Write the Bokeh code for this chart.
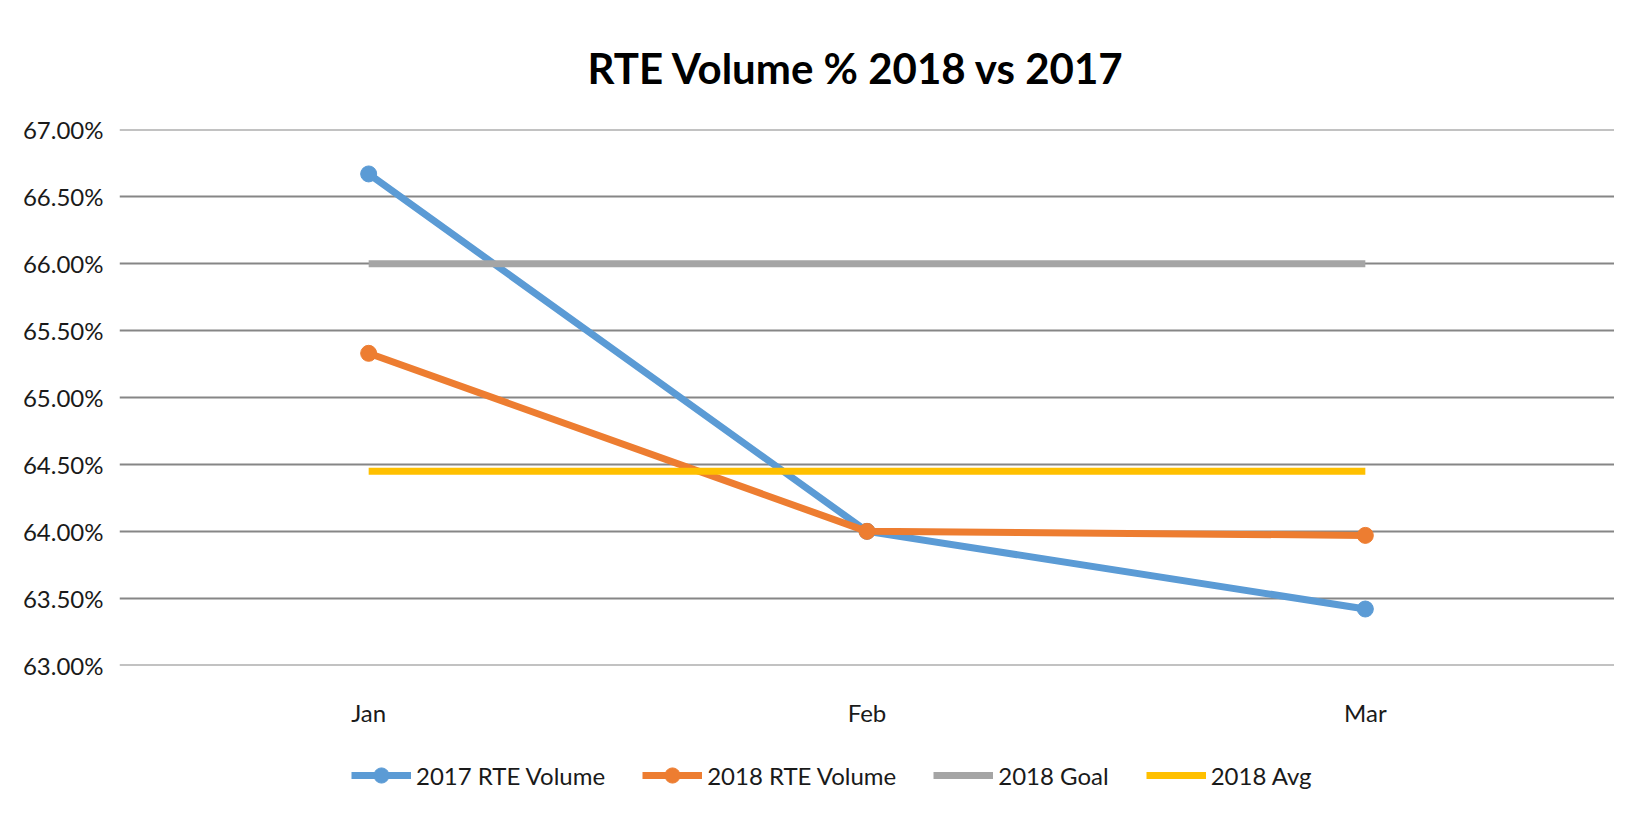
from bokeh.plotting import figure
from bokeh.layouts import column
from bokeh.models import (FactorRange, Range1d, Legend, LegendItem, NumeralTickFormatter,
                          FixedTicker, ColumnDataSource)
from bokeh.embed import file_html
from bokeh.resources import INLINE

months = ["Jan", "Feb", "Mar"]
rte_2017 = [0.6667, 0.6400, 0.6342]
rte_2018 = [0.6533, 0.6400, 0.6397]
goal_2018 = [0.6600, 0.6600, 0.6600]
avg_2018 = [0.6445, 0.6445, 0.6445]
y_ticks = [0.630, 0.635, 0.640, 0.645, 0.650, 0.655, 0.660, 0.665, 0.670]
series_names = ["2017 RTE Volume", "2018 RTE Volume", "2018 Goal", "2018 Avg"]

src = ColumnDataSource(dict(month=months, r17=rte_2017, r18=rte_2018, goal=goal_2018, avg=avg_2018))

FONT = "Lato"
blue, orange, gray, yellow = "#5B9BD5", "#ED7D31", "#A5A5A5", "#FFC000"

p = figure(width=1614, height=740, x_range=FactorRange(*months),
           y_range=Range1d(0.62998, 0.67002),
           output_backend="svg", toolbar_location=None,
           min_border_left=119, min_border_right=0, min_border_top=129, min_border_bottom=75)
p.background_fill_color = "white"
p.border_fill_color = "white"
p.outline_line_color = None

p.title.text = "RTE Volume % 2018 vs 2017"
p.title.align = "left"
p.title.text_font = FONT
p.title.text_font_style = "bold"
p.title.text_font_size = "42px"
p.title.text_color = "#000000"
p.title.standoff = 74
p.title.offset = 468

p.xgrid.grid_line_color = None
p.ygrid.grid_line_color = "#868686"
p.ygrid.grid_line_width = 2
p.yaxis.ticker = FixedTicker(ticks=y_ticks)
p.yaxis.formatter = NumeralTickFormatter(format="0.00%")
for ax in (p.xaxis[0], p.yaxis[0]):
    ax.axis_line_color = None
    ax.major_tick_line_color = None
    ax.minor_tick_line_color = None
    ax.major_label_text_font = FONT
    ax.major_label_text_font_size = "24px"
    ax.major_label_text_color = "#1a1a1a"
p.yaxis.major_label_standoff = 10
p.xaxis.major_label_standoff = 26


def draw(fig, visible=True):
    r = []
    r.append([fig.line("month", "r17", source=src, line_width=7, color=blue, visible=visible),
              fig.scatter("month", "r17", source=src, size=16, color=blue, visible=visible)])
    r.append([fig.line("month", "r18", source=src, line_width=7, color=orange, visible=visible),
              fig.scatter("month", "r18", source=src, size=16, color=orange, visible=visible)])
    r.append([fig.line("month", "goal", source=src, line_width=7, color=gray, visible=visible)])
    r.append([fig.line("month", "avg", source=src, line_width=7, color=yellow, visible=visible)])
    return r


draw(p)

# legend strip below the chart (its renderers are hidden; they only feed the legend keys)
lg = figure(width=1614, height=73, x_range=FactorRange(*months), y_range=Range1d(0.63, 0.67),
            output_backend="svg", toolbar_location=None, x_axis_type=None, y_axis_type=None,
            min_border_left=119, min_border_right=0, min_border_top=0, min_border_bottom=0)
lg.outline_line_color = None
lg.xgrid.grid_line_color = None
lg.ygrid.grid_line_color = None
lg.border_fill_color = "white"
keys = draw(lg, visible=False)

legend = Legend(items=[LegendItem(label=n, renderers=r) for n, r in zip(series_names, keys)],
                orientation="horizontal", location=(232, 19))
legend.label_text_font = FONT
legend.label_text_font_size = "24px"
legend.label_text_color = "#1a1a1a"
legend.glyph_width = 60
legend.glyph_height = 38
legend.label_standoff = 5
legend.spacing = 37
legend.padding = 10
legend.border_line_color = None
legend.background_fill_alpha = 0
legend.inactive_fill_alpha = 0
lg.add_layout(legend)

layout = column(p, lg, spacing=0)
open("out.html", "w").write(file_html(layout, INLINE))
